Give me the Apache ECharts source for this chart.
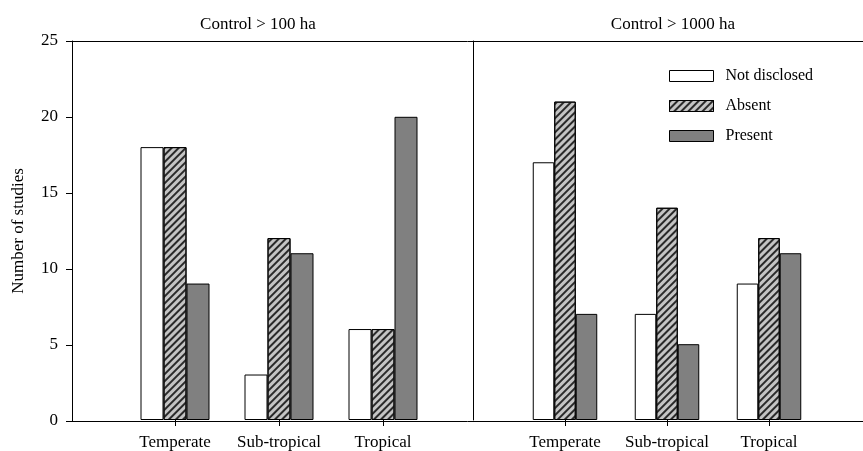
<!DOCTYPE html>
<html>
<head>
<meta charset="utf-8">
<script src="https://cdn.jsdelivr.net/npm/echarts@6/dist/echarts.min.js"></script>
<style>
html, body { margin: 0; padding: 0; background: #fff; }
#chart { width: 863px; height: 451px; }
</style>
</head>
<body>
<div id="chart"></div>
<script>
// categories and panels
var categories = ['Temperate', 'Sub-tropical', 'Tropical'];
var seriesNames = ['Not disclosed', 'Absent', 'Present'];
var panelTitles = ['Control > 100 ha', 'Control > 1000 ha'];

// Control > 100 ha
var notDisclosed100 = [18, 3, 6];
var absent100 = [18, 12, 6];
var present100 = [9, 11, 20];

// Control > 1000 ha
var notDisclosed1000 = [17, 7, 9];
var absent1000 = [21, 14, 12];
var present1000 = [7, 5, 11];

var yMin = 0, yMax = 25, yStep = 5;

var font = 'Liberation Serif';

// fills for the three groups
var styles = [
  { color: '#ffffff', borderColor: '#000', borderWidth: 1 },
  {
    color: '#c4c4c4', borderColor: '#000', borderWidth: 1,
    decal: {
      symbol: 'rect',
      symbolSize: 1,
      dashArrayX: [1, 0],
      dashArrayY: [2, 3],
      rotation: -Math.PI / 4,
      color: '#2a2a2a'
    }
  },
  { color: '#808080', borderColor: '#000', borderWidth: 1 }
];

function barSeries(name, idx, data, axisIdx, width) {
  return {
    name: name,
    type: 'bar',
    xAxisIndex: axisIdx,
    yAxisIndex: axisIdx,
    barWidth: width,
    barGap: '0%',
    itemStyle: styles[idx],
    data: data
  };
}

function catAxis(gridIdx) {
  return {
    gridIndex: gridIdx,
    type: 'category',
    data: categories,
    axisLine: { show: false },
    axisTick: { show: true, inside: false, alignWithLabel: true, length: 6, lineStyle: { color: '#000', width: 1 } },
    axisLabel: { color: '#000', fontSize: 17, fontFamily: font, margin: 14, interval: 0 },
    splitLine: { show: false }
  };
}

// plain line used for the frame's top and bottom edges
function frameLine(pos) {
  return {
    gridIndex: 0, type: 'value', min: 0, max: 1, position: pos,
    axisLine: { show: true, onZero: false, lineStyle: { color: '#000', width: 1 } },
    axisTick: { show: false },
    axisLabel: { show: false },
    splitLine: { show: false }
  };
}

var chart = echarts.init(document.getElementById('chart'));
chart.setOption({
  animation: false,
  backgroundColor: '#fff',
  textStyle: { fontFamily: font },
  title: [
    { text: panelTitles[0], left: 258, top: 16, textAlign: 'center', padding: 0,
      textStyle: { fontSize: 17, fontWeight: 'normal', color: '#000', fontFamily: font } },
    { text: panelTitles[1], left: 673, top: 16, textAlign: 'center', padding: 0,
      textStyle: { fontSize: 17, fontWeight: 'normal', color: '#000', fontFamily: font } }
  ],
  legend: {
    orient: 'vertical',
    left: 669,
    top: 68,
    padding: 0,
    icon: 'rect',
    itemWidth: 44,
    itemHeight: 11,
    itemGap: 14,
    data: seriesNames,
    itemStyle: { borderWidth: 1 },
    textStyle: { fontSize: 16, color: '#000', fontFamily: font, padding: [0, 0, 0, 7] }
  },
  grid: [
    // frame
    { left: 72, top: 41, right: 0, height: 380, outerBoundsMode: 'none' },
    // Control > 100 ha
    { left: 123, top: 41, width: 312, height: 380 },
    // Control > 1000 ha
    { left: 514, top: 41, width: 306, height: 380 }
  ],
  xAxis: [
    frameLine('bottom'),
    catAxis(1),
    catAxis(2),
    frameLine('top')
  ],
  yAxis: [
    {
      gridIndex: 0, type: 'value', min: yMin, max: yMax, interval: yStep,
      name: 'Number of studies', nameLocation: 'middle', nameGap: 45,
      nameTextStyle: { fontSize: 17, color: '#000', fontFamily: font },
      axisLine: { show: true, lineStyle: { color: '#000', width: 1 } },
      axisTick: { show: true, length: 6, lineStyle: { color: '#000' } },
      axisLabel: { color: '#000', fontSize: 17, fontFamily: font, margin: 14 },
      splitLine: { show: false }
    },
    { gridIndex: 1, type: 'value', min: yMin, max: yMax, interval: yStep, show: false },
    {
      gridIndex: 2, type: 'value', min: yMin, max: yMax, interval: yStep, offset: 41,
      axisLine: { show: true, lineStyle: { color: '#000', width: 1 } },
      axisTick: { show: false },
      axisLabel: { show: false },
      splitLine: { show: false }
    }
  ],
  series: [
    barSeries(seriesNames[0], 0, notDisclosed100, 1, 23),
    barSeries(seriesNames[1], 1, absent100, 1, 23),
    barSeries(seriesNames[2], 2, present100, 1, 23),
    barSeries(seriesNames[0], 0, notDisclosed1000, 2, 21.5),
    barSeries(seriesNames[1], 1, absent1000, 2, 21.5),
    barSeries(seriesNames[2], 2, present1000, 2, 21.5)
  ]
});
</script>
</body>
</html>
